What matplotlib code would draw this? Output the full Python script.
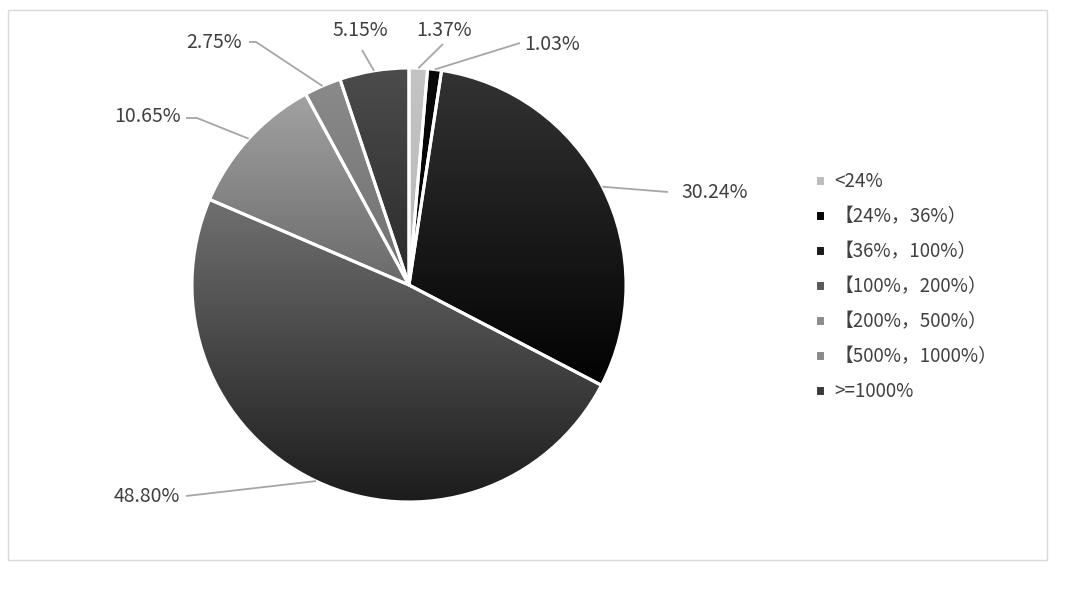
import numpy as np
import matplotlib
matplotlib.use("Agg")
import matplotlib.pyplot as plt
from matplotlib.colors import LinearSegmentedColormap
from matplotlib.patches import Rectangle

plt.rcParams['font.family'] = ['Noto Sans CJK SC', 'DejaVu Sans']

categories = ['<24%', '【24%，36%）', '【36%，100%）', '【100%，200%）',
              '【200%，500%）', '【500%，1000%）', '>=1000%']
values = [1.37, 1.03, 30.24, 48.80, 10.65, 2.75, 5.15]
value_labels = ['1.37%', '1.03%', '30.24%', '48.80%', '10.65%', '2.75%', '5.15%']

legend_colors = ['#bdbdbd', '#050505', '#1a1a1a', '#595959', '#8c8c8c', '#8a8a8a', '#3a3a3a']
grad_top = ['#c4c4c4', '#0a0a0a', '#333333', '#707070', '#a2a2a2', '#8a8a8a', '#4c4c4c']
grad_bot = ['#b8b8b8', '#000000', '#020202', '#1a1a1a', '#6a6a6a', '#707070', '#2a2a2a']

W, H = 1080, 591
CX, CY, R = 409, 285, 217  # pie centre / radius in pixels

fig = plt.figure(figsize=(W / 100, H / 100), dpi=100)
ax = fig.add_axes([0, 0, 1, 1])

wedges, _ = ax.pie(values, colors=legend_colors, startangle=90, counterclock=False,
                   radius=1, center=(0, 0),
                   wedgeprops=dict(edgecolor='white', linewidth=2.2))
ax.set_xlim(-CX / R, (W - CX) / R)
ax.set_ylim(-(H - CY) / R, CY / R)
ax.set_aspect('equal')
ax.axis('off')

leg = ax.legend(wedges, categories, loc='upper left', bbox_to_anchor=(815 / W, 1 - 171 / H),
                frameon=False, handlelength=0.55, handleheight=0.55, handletextpad=0.5,
                labelspacing=0.75, fontsize=13.5, borderaxespad=0, borderpad=0)
for t in leg.get_texts():
    t.set_color('#404040')

# gradient fills clipped to each wedge
grad = np.linspace(0, 1, 256).reshape(-1, 1)
for w, ct, cb in zip(wedges, grad_top, grad_bot):
    verts = w.get_path().vertices
    x0, x1 = verts[:, 0].min(), verts[:, 0].max()
    y0, y1 = verts[:, 1].min(), verts[:, 1].max()
    cmap = LinearSegmentedColormap.from_list('g', [cb, ct])
    im = ax.imshow(grad, extent=(x0, x1, y0, y1), origin='lower', cmap=cmap,
                   aspect='auto', zorder=1, interpolation='bilinear')
    im.set_clip_path(w)
    w.set_facecolor('none')
    w.set_zorder(2)
ax.set_xlim(-CX / R, (W - CX) / R)
ax.set_ylim(-(H - CY) / R, CY / R)


def px(x, y):
    return (x - CX) / R, (CY - y) / R


# label layout: (elbow points in px, text pos px, ha)
layout = [
    ([(443, 44)], (444, 31), 'center'),
    ([(520, 43)], (524, 44), 'left'),
    ([(668, 192)], (681, 193), 'left'),
    ([(186, 496)], (180, 497), 'right'),
    ([(197, 118), (186, 118)], (181, 116), 'right'),
    ([(256, 42), (249, 42)], (242, 43), 'right'),
    ([(362, 50)], (360, 31), 'center'),
]
for w, lab, (pts, tpos, ha) in zip(wedges, value_labels, layout):
    mid = np.deg2rad((w.theta1 + w.theta2) / 2)
    ax_, ay_ = np.cos(mid) * 1.0, np.sin(mid) * 1.0
    xs = [ax_] + [px(*p)[0] for p in pts]
    ys = [ay_] + [px(*p)[1] for p in pts]
    ax.plot(xs, ys, color='#a6a6a6', lw=1.3, zorder=3, solid_capstyle='butt')
    tx, ty = px(*tpos)
    ax.text(tx, ty, lab, ha=ha, va='center', fontsize=14, color='#404040')

fig.patches.append(Rectangle((8 / W, 1 - 560 / H), (1047 - 8) / W, (560 - 10) / H,
                             transform=fig.transFigure, fill=False,
                             edgecolor='#d9d9d9', linewidth=1))

fig.savefig('out.png', dpi=100, facecolor='white')
